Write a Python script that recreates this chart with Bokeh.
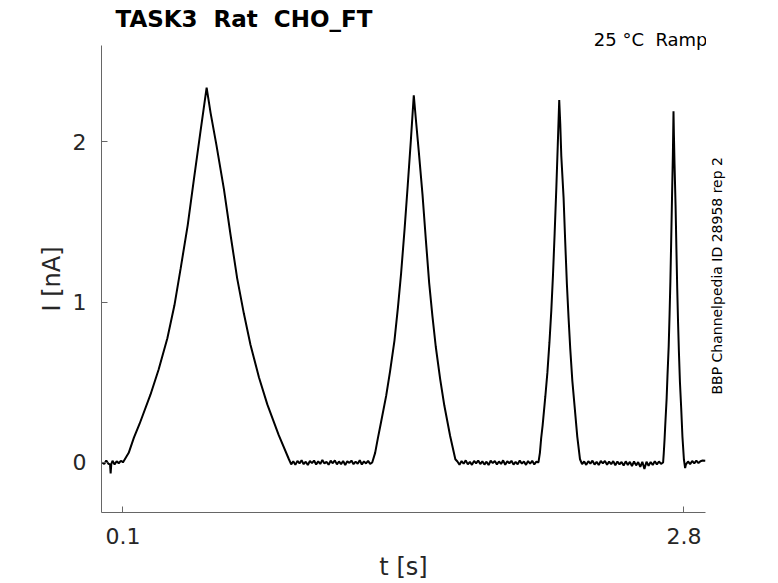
import numpy as np
from bokeh.plotting import figure
from bokeh.layouts import row
from bokeh.models import Range1d, FixedTicker, ColumnDataSource, Title, Label
from bokeh.embed import file_html
from bokeh.resources import INLINE

# ---- data ----
pre_t = [0.0, 0.01, 0.02, 0.03, 0.038, 0.041, 0.044, 0.05, 0.06, 0.07, 0.08, 0.09, 0.097]
pre_i = [0.0, -0.01, 0.012, -0.008, -0.012, -0.068, -0.01, 0.01, -0.012, 0.008, -0.005, 0.01, 0.005]

r1_t = [0.1, 0.128, 0.153, 0.18, 0.233, 0.272, 0.314, 0.348, 0.378, 0.412, 0.442, 0.472, 0.503,
        0.522, 0.55, 0.586, 0.618, 0.65, 0.682, 0.714, 0.755, 0.795, 0.85, 0.899]
r1_i = [0.0, 0.06, 0.155, 0.24, 0.424, 0.58, 0.775, 0.98, 1.21, 1.48, 1.768, 2.05, 2.337,
        2.18, 1.98, 1.706, 1.42, 1.148, 0.93, 0.734, 0.53, 0.362, 0.17, 0.02]

r2_t = [1.3, 1.314, 1.327, 1.34, 1.367, 1.386, 1.407, 1.424, 1.439, 1.456, 1.471, 1.486, 1.5,
        1.51, 1.524, 1.542, 1.558, 1.574, 1.59, 1.606, 1.627, 1.647, 1.675, 1.7]
r2_i = [0.0, 0.06, 0.15, 0.235, 0.415, 0.57, 0.76, 0.97, 1.18, 1.46, 1.73, 2.01, 2.29,
        2.14, 1.94, 1.67, 1.39, 1.12, 0.91, 0.72, 0.52, 0.355, 0.165, 0.02]

r3_t = [2.1, 2.107, 2.113, 2.12, 2.133, 2.143, 2.153, 2.162, 2.17, 2.178, 2.186, 2.193, 2.2,
        2.205, 2.21, 2.221, 2.229, 2.237, 2.245, 2.253, 2.263, 2.274, 2.287, 2.3]
r3_i = [0.0, 0.06, 0.15, 0.23, 0.41, 0.56, 0.75, 0.95, 1.17, 1.43, 1.71, 1.98, 2.26,
        2.11, 1.91, 1.65, 1.37, 1.11, 0.9, 0.71, 0.51, 0.35, 0.16, 0.02]

r4_t = [2.7, 2.703, 2.707, 2.71, 2.717, 2.721, 2.727, 2.731, 2.735, 2.739, 2.743, 2.747, 2.75,
        2.752, 2.755, 2.76, 2.764, 2.768, 2.772, 2.776, 2.781, 2.787, 2.793, 2.8]
r4_i = [0.0, 0.055, 0.145, 0.225, 0.4, 0.54, 0.73, 0.92, 1.13, 1.39, 1.66, 1.92, 2.19,
        2.04, 1.86, 1.6, 1.33, 1.08, 0.87, 0.69, 0.5, 0.34, 0.16, 0.02]

# baseline samples between ramps (10 ms apart)
base_b = [-0.012, 0.008, -0.015, 0.01, -0.006, 0.014, -0.011, 0.005, -0.016, 0.009,
          -0.004, 0.012, -0.013, 0.007, -0.009, 0.015, -0.007, 0.004, -0.014, 0.011,
          -0.005, 0.013, -0.012, 0.006, -0.01, 0.009, -0.016, 0.008, -0.003, 0.012,
          -0.011, 0.005, -0.008, 0.014, -0.013, 0.007, -0.006, 0.01, -0.009]
base_c = [0.006, -0.014, 0.009, -0.008, 0.013, -0.012, 0.004, -0.015, 0.01, -0.006,
          0.012, -0.01, 0.007, -0.013, 0.005, -0.016, 0.011, -0.004, 0.009, -0.012,
          0.006, -0.009, 0.013, -0.014, 0.008, -0.005, 0.01, -0.013, 0.004, -0.011,
          0.012, -0.007, 0.006, -0.015, 0.009, -0.008, 0.011, -0.012, 0.005]
base_d = [-0.01, 0.006, -0.015, 0.008, -0.007, 0.011, -0.013, 0.004, -0.016, 0.009,
          -0.006, 0.01, -0.014, 0.005, -0.011, 0.008, -0.017, 0.006, -0.012, 0.003,
          -0.019, 0.007, -0.015, 0.004, -0.022, 0.006, -0.018, 0.002, -0.028, 0.004,
          -0.04, 0.005, -0.02, 0.003, -0.016, 0.008, -0.012, 0.006, -0.009]
post_t = [2.806, 2.81, 2.82, 2.83, 2.84, 2.85, 2.86, 2.87, 2.88, 2.89, 2.904]
post_i = [-0.035, -0.012, 0.006, -0.01, 0.009, -0.006, 0.011, -0.004, 0.008, 0.012, 0.01]

x_ticks = [0.1, 2.8]
y_ticks = [0, 1, 2]

# ---- assemble trace ----
bt = np.linspace(0.91, 1.29, len(base_b))
ct = np.linspace(1.71, 2.09, len(base_c))
dt = np.linspace(2.31, 2.69, len(base_d))
t = np.concatenate([pre_t, r1_t, bt, r2_t, ct, r3_t, dt, r4_t, post_t])
cur = np.concatenate([pre_i, r1_i, base_b, r2_i, base_c, r3_i, base_d, r4_i, post_i])
src = ColumnDataSource(dict(t=t, i=cur))

p = figure(width=706, height=583, output_backend="svg", toolbar_location=None,
           x_range=Range1d(-0.003, 2.904), y_range=Range1d(-0.312, 2.6),
           min_border_left=101, min_border_right=1, min_border_top=43, min_border_bottom=71)
p.outline_line_color = None
p.grid.visible = False
p.background_fill_color = "white"
p.border_fill_color = "white"

p.line("t", "i", source=src, line_color="black", line_width=2)

FONT = "DejaVu Sans"
TXT = "#262626"
AX = "#666666"
for ax in (p.xaxis[0], p.yaxis[0]):
    ax.axis_line_color = AX
    ax.major_tick_line_color = AX
    ax.major_tick_in = 6
    ax.major_tick_out = 0
    ax.minor_tick_line_color = None
    ax.major_label_text_font = FONT
    ax.major_label_text_font_size = "22px"
    ax.major_label_text_color = TXT
    ax.axis_label_text_font = FONT
    ax.axis_label_text_font_size = "24px"
    ax.axis_label_text_font_style = "normal"
    ax.axis_label_text_color = TXT

p.xaxis.ticker = FixedTicker(ticks=x_ticks)
p.yaxis.ticker = FixedTicker(ticks=y_ticks)
p.xaxis.axis_label = "t [s]"
p.yaxis.axis_label = "I [nA]"
p.xaxis.major_label_standoff = 15
p.yaxis.major_label_standoff = 15
p.xaxis.axis_label_standoff = 6
p.yaxis.axis_label_standoff = 4

# titles (closest to frame first)
p.add_layout(Title(text="25 °C\u00a0 Ramp", align="right", offset=-2, standoff=-9,
                   text_font=FONT, text_font_size="18px", text_font_style="normal",
                   text_color="black"), "above")
p.add_layout(Title(text="TASK3\u00a0 Rat\u00a0 CHO_FT", align="left", offset=14, standoff=-1,
                   text_font=FONT, text_font_size="23px", text_font_style="bold",
                   text_color="black"), "above")
p.add_layout(Title(text=" ", standoff=0, text_font=FONT, text_font_size="2px"), "above")

# narrow side panel carrying the rotated note
side = figure(width=72, height=583, output_backend="svg", toolbar_location=None,
              x_range=Range1d(0, 72), y_range=Range1d(0, 583), min_border=0)
side.axis.visible = False
side.grid.visible = False
side.outline_line_color = None
side.background_fill_color = "white"
side.border_fill_color = "white"
side.add_layout(Label(x=10.5, y=295.5, text="BBP Channelpedia ID 28958 rep 2", text_font=FONT,
                      text_font_size="14px", text_color="black", angle=np.pi / 2,
                      text_align="center", text_baseline="middle"))

open("out.html", "w").write(file_html(row(p, side), INLINE))
